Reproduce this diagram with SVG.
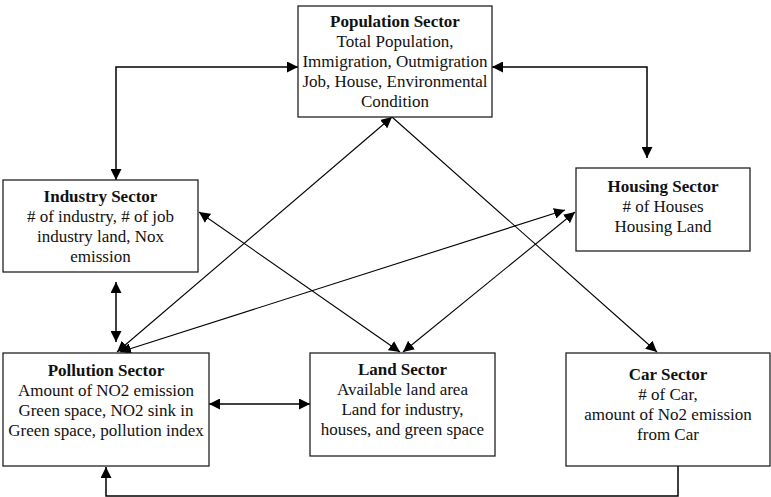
<svg xmlns="http://www.w3.org/2000/svg" width="771" height="497" viewBox="0 0 771 497">
<defs>
<marker id="ah" markerUnits="userSpaceOnUse" markerWidth="12" markerHeight="11" refX="11" refY="5.5" orient="auto-start-reverse" viewBox="0 0 12 11">
<path d="M0,0 L11,5.5 L0,11 z" fill="#000"/>
</marker>
<style>
.box{fill:#fff;stroke:#222;stroke-width:1.3}
.t{font-family:"Liberation Serif","Times New Roman",serif;font-size:17px;fill:#111;text-anchor:middle}
.b{font-weight:bold}
.c{fill:none;stroke:#000;stroke-width:1.1}
.e{fill:none;stroke:#000;stroke-width:1.5}
.bi{marker-start:url(#ah);marker-end:url(#ah)}
.un{marker-end:url(#ah)}
</style>
</defs>
<rect width="771" height="497" fill="#fff"/>
<g id="connectors">
<path class="e bi" d="M116,180 V67 H298"/>
<path class="e bi" d="M492,67 H647 V158"/>
<path class="e bi" d="M116,282 V342"/>
<path class="e bi" d="M209,404 H310"/>
<path class="e un" d="M678,466 V496 H106 V467"/>
<path class="c bi" d="M117,352 L392,117"/>
<path class="c bi" d="M120,352 L565,210"/>
<path class="c bi" d="M199,212 L400,352"/>
<path class="c bi" d="M575,212 L403,352"/>
<path class="c un" d="M392,117 L657,352"/>
</g>
<g id="population">
<rect class="box" x="298" y="6" width="194" height="111"/>
<text class="t b" x="395" y="27">Population Sector</text>
<text class="t" x="395" y="47">Total Population,</text>
<text class="t" x="395" y="67">Immigration, Outmigration</text>
<text class="t" x="395" y="87">Job, House, Environmental</text>
<text class="t" x="395" y="107">Condition</text>
</g>
<g id="industry">
<rect class="box" x="3" y="180" width="195" height="92"/>
<text class="t b" x="100.5" y="202">Industry Sector</text>
<text class="t" x="100.5" y="222">&#35; of industry, &#35; of job</text>
<text class="t" x="100.5" y="242">industry land, Nox</text>
<text class="t" x="100.5" y="262">emission</text>
</g>
<g id="housing">
<rect class="box" x="576" y="168" width="174" height="83"/>
<text class="t b" x="663" y="192">Housing Sector</text>
<text class="t" x="663" y="212">&#35; of Houses</text>
<text class="t" x="663" y="232">Housing Land</text>
</g>
<g id="pollution">
<rect class="box" x="3" y="353" width="206" height="113"/>
<text class="t b" x="106" y="376">Pollution Sector</text>
<text class="t" x="106" y="396">Amount of NO2 emission</text>
<text class="t" x="106" y="416">Green space, NO2 sink in</text>
<text class="t" x="106" y="436">Green space, pollution index</text>
</g>
<g id="land">
<rect class="box" x="310" y="353" width="185" height="103"/>
<text class="t b" x="402.5" y="375">Land Sector</text>
<text class="t" x="402.5" y="395">Available land area</text>
<text class="t" x="402.5" y="415">Land for industry,</text>
<text class="t" x="402.5" y="435">houses, and green space</text>
</g>
<g id="car">
<rect class="box" x="566" y="353" width="204" height="113"/>
<text class="t b" x="668" y="380">Car Sector</text>
<text class="t" x="668" y="400">&#35; of Car,</text>
<text class="t" x="668" y="420">amount of No2 emission</text>
<text class="t" x="668" y="440">from Car</text>
</g>
</svg>
